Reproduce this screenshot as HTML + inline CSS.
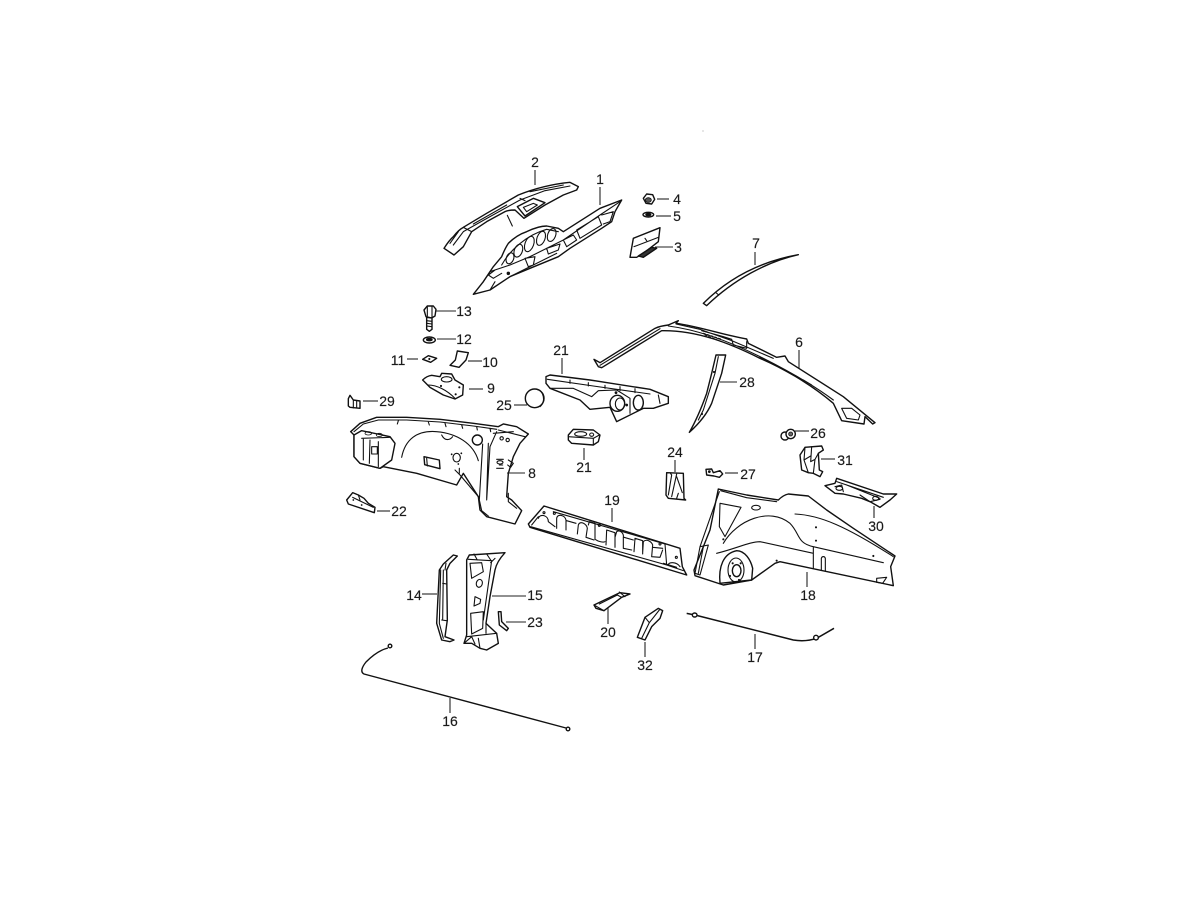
<!DOCTYPE html>
<html><head><meta charset="utf-8"><style>
html,body{margin:0;padding:0;background:#fff;width:1200px;height:900px;overflow:hidden}
svg{display:block}
path,ellipse,circle,polygon,rect,line,polyline{vector-effect:non-scaling-stroke}
.s{fill:#fff;stroke:#111;stroke-width:1.4;stroke-linejoin:round;stroke-linecap:round}
.l{fill:none;stroke:#111;stroke-width:1.1;stroke-linecap:round;stroke-linejoin:round}
.d{fill:#111;stroke:#111;stroke-width:.8}
.ld line{stroke:#222;stroke-width:1.1}
text{font-family:"Liberation Sans",sans-serif;font-size:14px;fill:#1a1a1a;stroke:#1a1a1a;stroke-width:.15;text-anchor:middle}
</style></head><body>
<svg width="1200" height="900" viewBox="0 0 1200 900" xmlns="http://www.w3.org/2000/svg">
<rect width="1200" height="900" fill="#fff"/>
<circle cx="703" cy="131" r=".5" fill="#777"/>

<!-- parts 1,2,3,4,5 -->
<g transform="translate(430,150) scale(.33333)">
<path class="s" d="M42,295 Q58,270 70,260 Q85,240 100,232 L170,190 L265,135 Q340,105 420,97 L445,110 L440,120 L400,135 L345,165 L282,205 L255,180 Q235,180 225,185 L170,215 L125,245 L100,290 L72,315 Z"/>
<path class="l" d="M70,285 L100,245 L180,200 L270,150 L345,122 L420,108 M60,280 L85,245 M100,232 L125,245 M270,145 L285,152 M130,222 L230,165 M300,125 L400,105"/>
<path class="s" d="M262,170 L310,145 L345,158 L285,198 Z"/>
<path class="l" d="M280,172 L310,160 L322,165 L290,185 Z M232,196 L247,228"/>
<path class="s" d="M130,433 L160,395 L190,350 L215,320 Q225,295 235,280 Q260,255 290,245 Q325,228 350,228 L385,235 L400,245 L510,175 L575,150 L555,185 L545,215 L515,235 L420,295 L385,320 L300,355 L240,380 L180,420 Z"/>
<path class="l" d="M215,345 C240,300 290,255 350,238 L385,245 M160,395 L180,365 L240,345 L300,320 L400,270 L510,195 L570,155 M240,380 L380,310 M180,420 L195,395 M195,360 L175,375 L190,385 L215,370 M440,240 L505,200 L515,225 L450,265 Z M515,195 L550,185 L540,215 L520,222 M285,325 L315,320 L310,345 L295,350 Z M400,270 L430,255 L440,270 L410,290 Z M350,295 L390,282 L385,300 L355,312 Z"/>
<ellipse class="l" transform="rotate(20 240 325)" cx="240" cy="325" rx="11" ry="17"/>
<ellipse class="l" transform="rotate(20 265 302)" cx="265" cy="302" rx="12" ry="20"/>
<ellipse class="l" transform="rotate(20 298 282)" cx="298" cy="282" rx="13" ry="24"/>
<ellipse class="l" transform="rotate(20 333 265)" cx="333" cy="265" rx="12" ry="22"/>
<ellipse class="l" transform="rotate(20 365 255)" cx="365" cy="255" rx="12" ry="20"/>
<circle class="d" cx="235" cy="370" r="4"/>
<path class="s" d="M600,322 L610,265 L690,233 L685,275 L640,310 L620,322 Z"/>
<path class="l" d="M612,290 L685,262 M645,265 L650,272"/>
<path class="s" style="fill:#333" d="M625,318 L665,292 L680,295 L640,322 Z"/>
<path class="s" d="M640,145 L650,132 L668,134 L674,148 L665,162 L648,160 Z"/>
<ellipse class="d" cx="655" cy="150" rx="9" ry="7" style="fill:#555"/>
<ellipse class="s" cx="655" cy="194" rx="16" ry="7"/>
<ellipse class="d" cx="655" cy="194" rx="8" ry="4"/>
</g>

<!-- left side parts -->
<g transform="translate(340,300) scale(.33333)">
<path class="s" d="M252,30 L262,18 L280,18 L288,28 L285,48 L275,54 L258,50 Z"/>
<path class="l" d="M262,18 L262,48 M276,20 L276,52"/>
<path class="s" d="M260,52 L276,54 L276,88 L268,94 L260,88 Z"/>
<path class="l" d="M260,62 L276,64 M260,70 L276,72 M260,78 L276,80"/>
<ellipse class="s" cx="268" cy="120" rx="18" ry="9"/>
<ellipse class="d" cx="268" cy="119" rx="9" ry="4"/>
<path class="s" d="M248,178 L265,167 L290,175 L272,187 Z"/>
<circle class="d" cx="268" cy="177" r="2"/>
<path class="s" d="M352,153 L385,158 L378,180 L357,202 L330,196 L346,180 Z"/>
<path class="s" d="M248,240 Q260,228 275,226 L300,230 L305,220 L335,222 L345,240 L370,255 L368,285 L345,297 L310,285 L270,262 Z"/>
<ellipse class="l" cx="320" cy="238" rx="16" ry="8"/>
<path class="l" d="M265,255 C290,255 320,270 345,295"/>
<circle class="d" cx="347" cy="283" r="2"/><circle class="d" cx="358" cy="262" r="2"/><circle class="d" cx="303" cy="258" r="2"/>
<path class="s" d="M25,296 L30,286 L40,300 L60,303 L60,325 L30,322 L25,318 Z"/>
<path class="l" d="M40,302 L40,324 M50,304 L50,324"/>
<path class="s" d="M32,395 L60,370 L110,352 L200,352 L300,358 L400,370 L475,380 L490,372 L530,380 L565,402 L540,430 L520,470 L505,520 L500,590 L515,600 L545,632 L525,672 L440,650 L420,630 L415,590 L370,520 L350,555 L230,520 L130,500 L120,505 L60,490 L42,470 L42,405 Z"/>
<path class="l" d="M42,395 L70,372 L115,360 L200,360 L300,366 L400,378 L470,388 M175,362 L172,372 M265,366 L268,375 M315,370 L318,380 M365,375 L368,385 M410,380 L412,390 M450,385 L452,395"/>
<path class="s" d="M42,405 L65,392 L150,410 L165,430 L155,480 L120,505 L60,490 L42,470 Z"/>
<path class="l" d="M65,415 L150,412 M70,415 L70,480 M90,420 L88,490 M115,425 L115,500 M95,440 L112,440 L112,462 L95,462 Z"/>
<ellipse class="d" cx="85" cy="400" rx="10" ry="5" style="fill:none"/><ellipse class="d" cx="118" cy="405" rx="9" ry="5" style="fill:none"/>
<path class="l" d="M185,472 C195,420 230,390 290,395 C350,400 400,430 415,482 M305,405 C315,425 330,420 338,410 M358,505 L358,520 M345,510 L360,525 L415,590"/>
<path class="s" d="M252,470 L298,480 L300,506 L254,494 Z"/>
<path class="l" d="M260,475 L262,498"/>
<ellipse class="l" cx="350" cy="473" rx="11" ry="13"/>
<circle class="d" cx="335" cy="463" r="1.5"/><circle class="d" cx="364" cy="460" r="1.5"/><circle class="d" cx="355" cy="492" r="1.5"/>
<circle class="s" cx="412" cy="420" r="15"/>
<path class="l" d="M428,432 L418,600 L425,632 L445,648 M445,430 L440,595 M470,395 L450,440 L440,600 M460,400 L520,395 M475,390 L555,410"/>
<circle class="l" cx="485" cy="415" r="5"/><circle class="l" cx="503" cy="420" r="5"/>
<path class="l" d="M470,478 L490,478 M478,495 L488,495 M470,505 L490,505 M505,480 L520,490 L512,502 L503,495"/>
<ellipse class="l" cx="480" cy="487" rx="9" ry="5"/>
<path class="l" d="M505,580 L505,605 L530,625"/>
<path class="s" d="M20,600 L38,578 L55,585 L72,595 L85,610 L105,622 L103,638 L25,612 Z"/>
<path class="l" d="M38,592 L100,622 M55,585 L60,600"/>
<circle class="d" cx="40" cy="600" r="1.5"/><circle class="d" cx="65" cy="615" r="1.5"/>
</g>

<!-- center parts: 21, 21b, 25 -->
<g transform="translate(530,320) scale(.33333)">
<path class="s" d="M48,170 L60,165 L180,180 L360,208 L415,230 L415,250 L370,265 L340,265 L260,305 L240,262 L180,268 L150,240 L60,205 L48,190 Z"/>
<path class="l" d="M52,178 L190,198 L360,222 M60,205 L130,205 L185,230 L205,212 L260,210 L300,235 L300,280 M120,180 L120,190 M175,188 L175,198 M225,196 L225,205 M270,200 L270,212 M315,206 L315,218 M385,225 L390,250"/>
<ellipse class="s" cx="262" cy="250" rx="22" ry="24"/>
<ellipse class="l" cx="270" cy="252" rx="14" ry="18"/>
<ellipse class="s" cx="325" cy="248" rx="15" ry="22"/>
<circle class="d" cx="258" cy="218" r="3"/><circle class="d" cx="290" cy="255" r="3"/>
<path class="s" d="M115,345 L130,328 L190,330 L210,345 L205,365 L190,375 L125,370 L115,360 Z"/>
<path class="l" d="M115,350 L190,355 L208,345 M190,355 L190,375"/>
<ellipse class="l" cx="152" cy="342" rx="18" ry="7"/>
<ellipse class="l" cx="185" cy="344" rx="6" ry="5"/>
<circle class="s" cx="14" cy="235" r="28"/>
<path class="l" d="M20,208 C42,212 48,245 30,260"/>
</g>

<!-- parts 7, 6, 28 -->
<g transform="translate(590,240) scale(.33333)">
<path class="s" d="M340,190 C390,140 480,70 625,44 C530,65 430,120 350,197 Z"/>
<path class="l" d="M378,158 L386,165"/>
<path class="s" d="M12,358 L30,368 L195,265 Q210,258 235,255 L265,242 L258,250 C330,260 400,285 470,297 L475,310 L560,352 L585,348 L595,365 L760,470 L855,548 L848,552 L825,530 L822,552 L755,542 L730,490 C660,430 570,380 510,355 C420,310 320,270 215,272 L35,383 L25,380 Z"/>
<path class="l" d="M30,376 L210,266 M235,258 C330,270 430,310 510,350 C600,395 670,435 730,480 M258,252 L330,268 L425,302 L550,355 M335,272 L400,290 L425,298 L430,315 L470,325 L470,305 M510,352 L530,362 M640,420 L665,435 M755,505 L785,505 L810,525 L805,540 L770,535 Z"/>
<path class="l" d="M340,280 L395,298 M345,285 L392,304" style="stroke-dasharray:2 2"/>
<path class="s" d="M378,345 L407,345 L395,400 L365,490 Q345,535 298,577 Q325,530 350,460 L365,400 Z"/>
<path class="l" d="M385,350 L375,400 L340,510 L325,540"/>
<circle class="d" cx="372" cy="396" r="2"/><circle class="d" cx="336" cy="522" r="2"/>
</g>

<!-- parts 18, 26, 27, 30, 31 -->
<g transform="translate(680,420) scale(.33333)">
<ellipse class="s" cx="315" cy="48" rx="12" ry="12"/>
<circle class="s" cx="332" cy="42" r="14"/>
<circle class="d" cx="332" cy="42" r="6" style="fill:#666"/>
<path class="s" d="M360,105 L375,82 L425,78 L430,90 L415,100 L418,150 L428,155 L420,170 L400,160 L385,158 L365,150 Z"/>
<path class="l" d="M375,82 L372,120 L385,158 M395,80 L392,125 L405,118 L400,160 M372,120 L392,108 M415,100 L405,118"/>
<path class="s" d="M78,148 L95,147 L100,158 L120,152 L128,162 L118,172 L102,168 L80,165 Z"/>
<circle class="d" cx="88" cy="155" r="3"/>
<path class="s" d="M435,197 L465,190 L470,175 L610,222 L650,222 L630,240 L600,262 L570,245 L545,235 L490,222 L465,220 Z"/>
<path class="l" d="M470,185 L610,232 M500,195 L600,235 M465,200 L485,195 L490,215 M540,225 L570,245 L600,238"/>
<ellipse class="l" cx="478" cy="205" rx="10" ry="6"/><ellipse class="l" cx="587" cy="235" rx="9" ry="6"/>
<path class="s" d="M115,207 L200,225 L295,240 Q310,225 325,222 L385,228 L440,270 L520,325 L645,408 L632,440 L640,497 L300,425 L285,430 L215,480 L130,495 L45,467 L42,450 L90,330 Z"/>
<path class="l" d="M122,212 L200,233 L290,245 M118,215 L60,380 M120,250 L183,262 L135,350 L118,320 Z M130,370 C170,300 270,260 330,310 C360,340 350,370 400,380 M345,282 C420,285 500,320 640,410 M110,400 C170,385 210,365 240,365 L400,400 M400,380 L400,445 M400,380 L610,428 M60,380 L85,375 L60,465 L45,460 Z M70,380 L55,460"/>
<path class="l" d="M424,450 L424,415 C426,408 434,408 436,415 L436,453"/>
<ellipse class="l" cx="228" cy="263" rx="13" ry="7"/>
<path class="l" d="M590,475 L620,472 L608,490 L590,487 Z"/>
<circle class="d" cx="408" cy="322" r="2"/><circle class="d" cx="408" cy="362" r="2"/><circle class="d" cx="580" cy="408" r="2"/><circle class="d" cx="130" cy="358" r="2"/><circle class="d" cx="290" cy="422" r="2"/>
<path class="s" d="M120,490 C115,440 130,400 170,392 C195,392 212,420 218,445 L215,480 Z"/>
<ellipse class="l" cx="168" cy="450" rx="24" ry="36"/>
<ellipse class="s" cx="170" cy="452" rx="13" ry="18"/>
<circle class="d" cx="158" cy="430" r="2"/><circle class="d" cx="182" cy="430" r="2"/><circle class="d" cx="150" cy="468" r="2"/><circle class="d" cx="177" cy="480" r="2"/>
</g>

<!-- part 19, 24 -->
<g transform="translate(520,450) scale(.33333)">
<path class="s" d="M25,222 L72,168 L480,295 L487,350 L500,375 L30,232 Z"/>
<path class="l" d="M32,230 L440,345 L490,362 M100,185 L435,282 L440,345 M35,225 L55,200 M430,340 L470,352 M445,345 C445,335 470,335 480,350"/>
<path class="l" d="M55,205 C60,190 85,195 85,215 L105,230 M110,235 L110,205 C112,190 135,195 138,210 L138,240 M140,212 L168,220 M172,252 L175,225 C180,210 200,222 202,235 L198,262 L222,270 M205,225 L208,215 L225,220 L225,268 C235,275 250,278 255,275 M258,285 L260,240 L285,248 L285,292 M285,262 L290,245 C300,238 312,250 310,262 L310,295 L335,300 M312,262 L340,270 M342,305 L345,265 L368,272 L368,312 M368,308 L370,275 C380,265 395,275 398,285 L395,320 L420,322 L428,300 M398,292 L428,295"/>
<circle class="l" cx="72" cy="188" r="3"/><circle class="l" cx="103" cy="190" r="3"/><circle class="l" cx="238" cy="226" r="3"/><circle class="l" cx="420" cy="282" r="3"/><circle class="l" cx="469" cy="322" r="3"/>
<path class="s" d="M440,68 L490,70 L492,145 L497,150 L445,145 L438,135 Z"/>
<path class="l" d="M450,68 L455,75 L445,135 M470,72 L455,140 M470,80 L487,128 M475,130 L470,145"/>
</g>

<!-- parts 14, 15, 23 -->
<g transform="translate(400,540) scale(.33333)">
<path class="s" d="M130,72 L160,45 L172,48 L150,70 L140,90 L142,240 L135,290 L162,300 L150,305 L125,300 L110,250 L118,90 Z"/>
<path class="l" d="M122,90 L118,250 L130,295 M130,90 L128,240 M138,70 L135,90 M128,130 L140,132 M125,240 L140,242"/>
<path class="s" d="M208,45 L315,38 Q290,65 285,90 L270,170 L258,250 L290,280 L295,310 L260,330 L240,325 L215,310 L192,310 L200,285 L200,60 Z"/>
<path class="l" d="M205,58 L275,62 L250,240 M222,42 L232,60 M260,42 L272,60 M285,55 L272,68 M210,70 L245,68 L250,95 L215,115 Z M212,220 L250,215 L248,265 L215,282 Z M225,170 L242,178 L240,190 L222,198 Z M200,290 L290,280 M192,310 L215,290 L225,312 M240,325 L235,295 M258,250 L258,280"/>
<ellipse class="l" transform="rotate(15 238 130)" cx="238" cy="130" rx="9" ry="12"/>
<path class="s" d="M295,215 L303,215 L305,245 L325,265 L320,272 L298,255 Z"/>
</g>

<!-- parts 20, 32, 17 -->
<g transform="translate(580,580) scale(.33333)">
<path class="s" d="M42,75 L120,38 L150,42 L125,52 L72,92 L48,85 Z"/>
<path class="l" d="M58,72 L112,45 L125,52 M42,75 L72,92 M118,36 L135,50"/>
<path class="s" d="M172,172 L195,112 L235,85 L248,92 L240,115 L215,140 L195,180 Z"/>
<path class="l" d="M195,112 L208,128 L185,175 M208,128 L238,90"/>
<path d="M320,100 L345,105 L640,180 C670,185 695,180 710,175 L762,145" style="fill:none;stroke:#111;stroke-width:1.5"/>
<ellipse class="s" cx="344" cy="105" rx="7" ry="6"/>
<ellipse class="s" cx="708" cy="173" rx="7" ry="7"/>
</g>

<!-- part 16 -->
<path d="M388,648 C380,650 372,656 366,662 C362,667 360,672 364,674 L566,728" style="fill:none;stroke:#111;stroke-width:1.4"/>
<circle class="s" cx="390" cy="646" r="1.8"/>
<circle class="s" cx="568" cy="729" r="1.8"/>

<!-- leaders -->
<g class="ld">
<line x1="535" y1="170" x2="535" y2="185"/><line x1="600" y1="187" x2="600" y2="205"/>
<line x1="657" y1="199" x2="669" y2="199"/><line x1="656" y1="216" x2="671" y2="216"/>
<line x1="655" y1="247" x2="673" y2="247"/><line x1="755" y1="252" x2="755" y2="265"/>
<line x1="436" y1="311" x2="456" y2="311"/><line x1="437" y1="339" x2="456" y2="339"/>
<line x1="407" y1="359" x2="418" y2="359"/><line x1="468" y1="361" x2="482" y2="361"/>
<line x1="469" y1="389" x2="483" y2="389"/><line x1="363" y1="401" x2="378" y2="401"/>
<line x1="514" y1="405" x2="527" y2="405"/><line x1="562" y1="358" x2="562" y2="374"/>
<line x1="584" y1="448" x2="584" y2="460"/><line x1="799" y1="350" x2="799" y2="368"/>
<line x1="720" y1="382" x2="737" y2="382"/><line x1="795" y1="431" x2="809" y2="431"/>
<line x1="675" y1="460" x2="675" y2="472"/><line x1="725" y1="473" x2="738" y2="473"/>
<line x1="821" y1="459" x2="835" y2="459"/><line x1="507" y1="473" x2="525" y2="473"/>
<line x1="377" y1="511" x2="390" y2="511"/><line x1="612" y1="508" x2="612" y2="522"/>
<line x1="874" y1="506" x2="874" y2="518"/><line x1="807" y1="572" x2="807" y2="587"/>
<line x1="422" y1="594" x2="437" y2="594"/><line x1="492" y1="596" x2="526" y2="596"/>
<line x1="506" y1="622" x2="526" y2="622"/><line x1="608" y1="608" x2="608" y2="624"/>
<line x1="645" y1="642" x2="645" y2="657"/><line x1="755" y1="634" x2="755" y2="649"/>
<line x1="450" y1="698" x2="450" y2="713"/>
</g>

<!-- labels -->
<text x="535" y="167">2</text><text x="600" y="184">1</text><text x="677" y="204">4</text><text x="677" y="221">5</text>
<text x="678" y="252">3</text><text x="756" y="248">7</text><text x="464" y="316">13</text><text x="464" y="344">12</text>
<text x="398" y="365">11</text><text x="490" y="367">10</text><text x="491" y="393">9</text><text x="387" y="406">29</text>
<text x="504" y="410">25</text><text x="561" y="355">21</text><text x="584" y="472">21</text><text x="799" y="347">6</text>
<text x="747" y="387">28</text><text x="818" y="438">26</text><text x="675" y="457">24</text><text x="748" y="479">27</text>
<text x="845" y="465">31</text><text x="532" y="478">8</text><text x="399" y="516">22</text><text x="612" y="505">19</text>
<text x="876" y="531">30</text><text x="808" y="600">18</text><text x="414" y="600">14</text><text x="535" y="600">15</text>
<text x="535" y="627">23</text><text x="608" y="637">20</text><text x="645" y="670">32</text><text x="755" y="662">17</text>
<text x="450" y="726">16</text>
</svg>
</body></html>
